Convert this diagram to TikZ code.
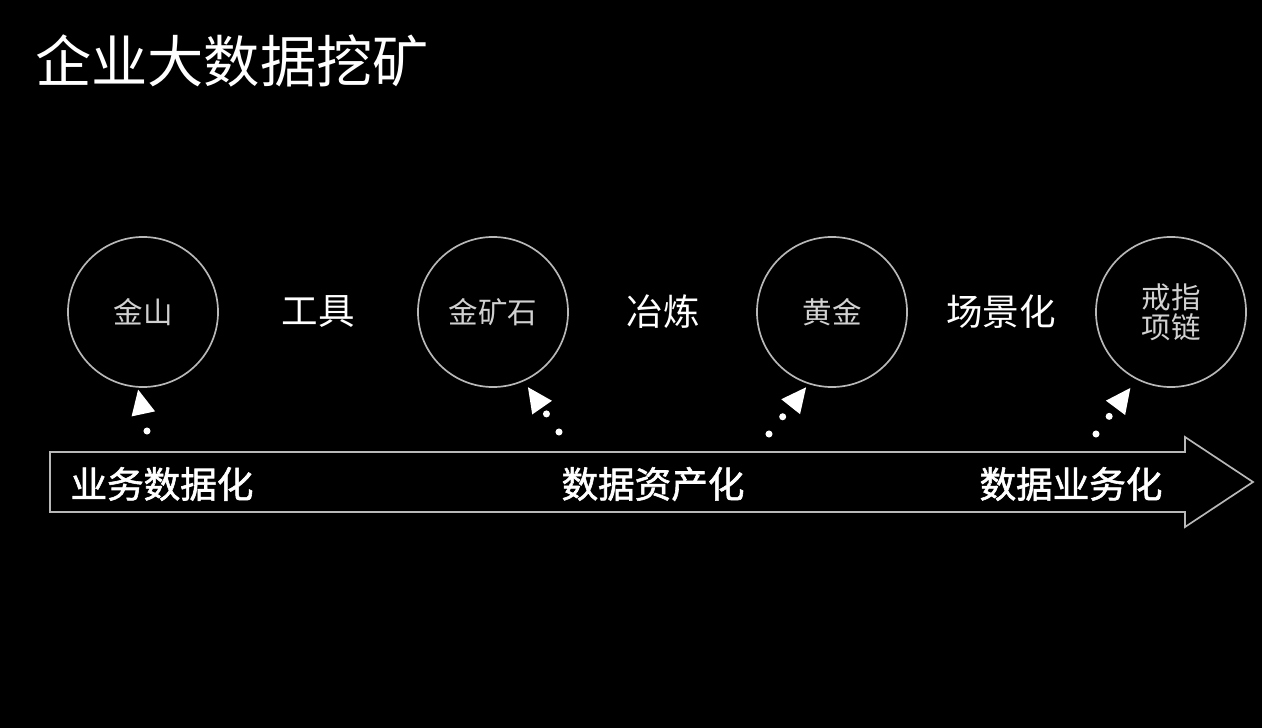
\documentclass[tikz,border=0pt]{standalone}
\usepackage{fontspec}
\setmainfont{Noto Sans CJK SC}
\newfontfamily\phasefont{Noto Sans CJK SC}[FakeBold=1.6]
\usetikzlibrary{arrows.meta,positioning}

\definecolor{rim}{gray}{0.72}
\definecolor{soft}{gray}{0.82}

\tikzset{
    title/.style={text=white,font=\fontsize{40}{48}\selectfont,inner sep=0pt},
    stage/.style={circle,draw=rim,line width=1.2pt,minimum size=3.75cm,
        text=soft,font=\fontsize{21}{21.3}\selectfont,inner sep=0pt},
    stepname/.style={text=white,font=\fontsize{26}{30}\selectfont,inner sep=0pt},
    phase/.style={text=white,font=\phasefont\fontsize{26}{30}\selectfont,inner sep=0pt},
    flow/.style={draw=rim,line width=1.2pt,line join=miter},
    pointer/.style={white,line width=5pt,line cap=round,dash pattern=on 0pt off 0.55cm,
        -{Triangle[length=0.62cm,width=0.6cm,line width=0pt]}},
}

\begin{document}
\begin{tikzpicture}[x=0.025cm,y=-0.025cm]
    % Background
    \fill[black] (0,0) rectangle (1262,728);
    \useasboundingbox (0,0) rectangle (1262,728);

    % Title
    \node[title] (head) at (232,61) {企业大数据挖矿};

    % Stages
    \node[stage] (s1) at (143,312) {金山};
    \node[stage] (s2) at (493,312) {金矿石};
    \node[stage] (s3) at (832,312) {黄金};
    \node[stage,align=center] (s4) at (1171,312) {戒指\\项链};

    % Steps between the stages
    \node[stepname] (t1) at (318,312) {工具};
    \node[stepname] (t2) at (663,312) {冶炼};
    \node[stepname] (t3) at (1001,312) {场景化};

    % Big arrow
    \draw[flow] (50,452) -- (1185,452) -- (1185,437) -- (1253,482)
        -- (1185,527) -- (1185,512) -- (50,512) -- cycle;

    % Phases
    \node[phase] (p1) at (162,484) {业务数据化};
    \node[phase] (p2) at (653,484) {数据资产化};
    \node[phase] (p3) at (1071,484) {数据业务化};

    % Dotted pointers
    \coordinate (d1) at (147,431);
    \coordinate (d2) at (559,432);
    \coordinate (d3) at (769,434);
    \coordinate (d4) at (1096,434);

    \draw[pointer,shorten >=0.05cm] (d1) -- (s1.-94);
    \draw[pointer,shorten >=0.18cm] (d2) -- (s2.-66);
    \draw[pointer,shorten >=0.1cm] (d3) -- (s3.-108);
    \draw[pointer,shorten >=0.26cm] (d4) -- (s4.-117);
\end{tikzpicture}
\end{document}
